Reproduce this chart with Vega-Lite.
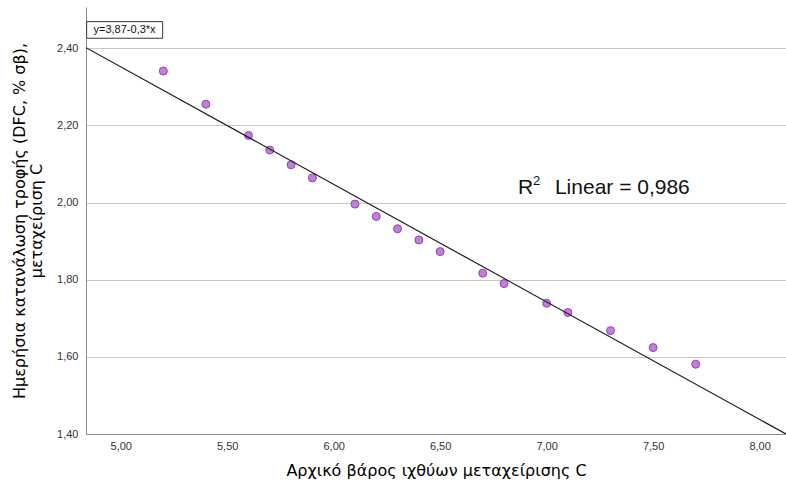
{
  "$schema": "https://vega.github.io/schema/vega-lite/v6.json",
  "width": 700,
  "height": 427,
  "autosize": "none",
  "padding": {"left": 86, "top": 7, "right": 0, "bottom": 56},
  "background": "white",
  "config": {
    "font": "Liberation Sans",
    "view": {"stroke": null}
  },
  "datasets": {
    "points": [
      {"x": 5.2, "y": 2.341},
      {"x": 5.4, "y": 2.255},
      {"x": 5.6, "y": 2.174},
      {"x": 5.7, "y": 2.136},
      {"x": 5.8, "y": 2.098},
      {"x": 5.9, "y": 2.064},
      {"x": 6.1, "y": 1.996},
      {"x": 6.2, "y": 1.964},
      {"x": 6.3, "y": 1.932},
      {"x": 6.4, "y": 1.903},
      {"x": 6.5, "y": 1.873},
      {"x": 6.7, "y": 1.817},
      {"x": 6.8, "y": 1.79},
      {"x": 7.0, "y": 1.739},
      {"x": 7.1, "y": 1.715},
      {"x": 7.3, "y": 1.668},
      {"x": 7.5, "y": 1.624},
      {"x": 7.7, "y": 1.581}
    ],
    "fit": [
      {"x": 4.837, "y": 2.4016},
      {"x": 8.124, "y": 1.4}
    ]
  },
  "layer": [
    {
      "data": {"name": "points"},
      "mark": {"type": "point", "filled": true, "size": 64, "fill": "#c37ddf", "stroke": "#8c4aad", "strokeWidth": 1, "opacity": 1},
      "encoding": {
        "x": {
          "field": "x", "type": "quantitative",
          "scale": {"domain": [4.837, 8.124], "nice": false, "zero": false},
          "axis": {
            "title": "Αρχικό βάρος ιχθύων μεταχείρισης C",
            "values": [5, 5.5, 6, 6.5, 7, 7.5, 8],
            "labelExpr": "replace(format(datum.value, '.2f'), '.', ',')",
            "grid": false, "ticks": false, "domainColor": "#8c8c8c", "domainWidth": 1,
            "labelFont": "Liberation Sans", "labelFontSize": 11, "labelColor": "#333333", "labelPadding": 6,
            "titleFont": "DejaVu Sans", "titleFontSize": 16, "titleFontWeight": "normal", "titleColor": "#000000", "titlePadding": 11
          }
        },
        "y": {
          "field": "y", "type": "quantitative",
          "scale": {"domain": [1.4, 2.507], "nice": false, "zero": false},
          "axis": {
            "title": ["Ημερήσια κατανάλωση τροφής (DFC, % σβ),", "μεταχείριση C"],
            "values": [1.4, 1.6, 1.8, 2.0, 2.2, 2.4],
            "labelExpr": "replace(format(datum.value, '.2f'), '.', ',')",
            "grid": true, "gridColor": "#c8c8c8", "gridWidth": 1,
            "ticks": false, "domainColor": "#8c8c8c", "domainWidth": 1,
            "labelFont": "Liberation Sans", "labelFontSize": 11, "labelColor": "#333333", "labelPadding": 8,
            "titleFont": "DejaVu Sans", "titleFontSize": 16, "titleFontWeight": "normal", "titleColor": "#000000", "titlePadding": 12, "titleLineHeight": 17
          }
        }
      }
    },
    {
      "data": {"name": "fit"},
      "mark": {"type": "line", "color": "#1a1a1a", "strokeWidth": 1.2, "clip": true},
      "encoding": {
        "x": {"field": "x", "type": "quantitative"},
        "y": {"field": "y", "type": "quantitative"}
      }
    },
    {
      "data": {"values": [{}]},
      "mark": {"type": "rect", "fill": "white", "stroke": "#333333", "strokeWidth": 1},
      "encoding": {
        "x": {"datum": 4.84},
        "x2": {"datum": 5.197},
        "y": {"datum": 2.469},
        "y2": {"datum": 2.426}
      }
    },
    {
      "data": {"values": [{"label": "y=3,87-0,3*x"}]},
      "mark": {"type": "text", "fontSize": 11, "color": "#111111", "align": "center", "baseline": "middle"},
      "encoding": {
        "x": {"datum": 5.018},
        "y": {"datum": 2.4475},
        "text": {"field": "label"}
      }
    },
    {
      "data": {"values": [{"label": "R"}]},
      "mark": {"type": "text", "fontSize": 21, "color": "#111111", "align": "left", "baseline": "alphabetic"},
      "encoding": {
        "x": {"datum": 6.8653},
        "y": {"datum": 2.0225},
        "text": {"field": "label"}
      }
    },
    {
      "data": {"values": [{"label": "2"}]},
      "mark": {"type": "text", "fontSize": 13, "color": "#111111", "align": "left", "baseline": "alphabetic", "dy": -9},
      "encoding": {
        "x": {"datum": 6.9357},
        "y": {"datum": 2.0225},
        "text": {"field": "label"}
      }
    },
    {
      "data": {"values": [{"label": "Linear  =  0,986"}]},
      "mark": {"type": "text", "fontSize": 21, "color": "#111111", "align": "left", "baseline": "alphabetic"},
      "encoding": {
        "x": {"datum": 7.039},
        "y": {"datum": 2.0225},
        "text": {"field": "label"}
      }
    }
  ]
}
